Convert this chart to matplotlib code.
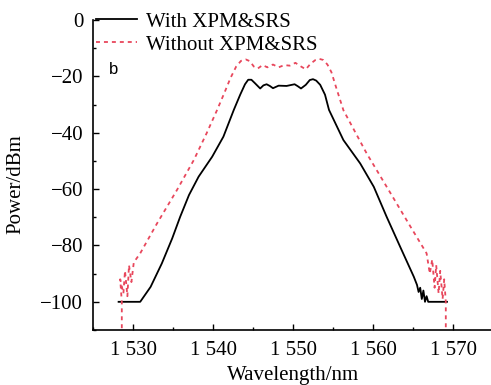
import matplotlib
matplotlib.use("Agg")
import matplotlib.pyplot as plt
from matplotlib.ticker import MultipleLocator

# Data
wl_with = [1528.2, 1530.9, 1532.2, 1533.6, 1534.9, 1535.9, 1537.0, 1538.2, 1539.9,
           1541.3, 1542.6, 1543.4, 1544.0, 1544.4, 1544.8, 1545.2, 1545.9, 1546.3,
           1546.7, 1547.1, 1547.5, 1548.2, 1549.2, 1550.2, 1550.6, 1551.0, 1551.6,
           1552.1, 1552.5, 1552.9, 1553.4, 1554.0, 1554.5, 1556.3, 1558.4, 1560.1,
           1561.7, 1563.4, 1565.1, 1565.5, 1565.7, 1565.9, 1566.1, 1566.3, 1566.5,
           1566.7, 1566.9, 1569.25]
power_with = [-100, -100, -94.7, -86.4, -77.5, -69.8, -62.1, -55.6, -48.5,
              -41.4, -31.9, -26.5, -22.8, -21.2, -21.2, -22.3, -24.3, -23.2,
              -22.8, -23.4, -24.2, -23.3, -23.4, -22.8, -23.5, -24.3, -23,
              -21.3, -21.0, -21.5, -23.0, -26.5, -31.9, -42.6, -50.9, -59.2,
              -69.8, -80.5, -91.1, -94, -96.5, -95, -99, -96, -100,
              -98, -100, -100]

wl_without = [1528.6, 1528.6, 1528.4, 1528.8, 1529.0, 1529.3, 1529.5, 1529.8, 1530.1,
              1530.9, 1533.0, 1535.5, 1537.6, 1539.2, 1540.5, 1541.4, 1542.2, 1542.9,
              1543.5, 1544.1, 1544.6, 1545.1, 1545.6, 1546.2, 1546.8, 1547.5, 1548.2,
              1548.9, 1549.6, 1550.3, 1551.0, 1551.6, 1552.2, 1552.8, 1553.3, 1553.8,
              1554.3, 1554.8, 1555.4, 1556.3, 1559.2, 1562.2, 1564.7, 1566.7, 1567.1,
              1567.4, 1567.7, 1567.9, 1568.2, 1568.4, 1568.7, 1568.9, 1569.1, 1569.1]
power_without = [-115, -100, -92, -97, -89, -98, -87, -93, -86,
                 -82.8, -72.2, -60.3, -49.7, -40.2, -32, -26, -20.5, -16.5,
                 -14.5, -14.0, -14.6, -16.5, -17.2, -16, -16.8, -15.8, -16.8,
                 -16, -16.2, -15.2, -16.5, -17.5, -15.5, -14.2, -13.8, -14.2,
                 -15.8, -18.5, -24, -32, -47.3, -61.5, -73.4, -82.8, -90,
                 -85, -95, -87, -97, -89, -99, -92, -100, -115]

x_ticks = [1530, 1540, 1550, 1560, 1570]
x_ticklabels = ["1 530", "1 540", "1 550", "1 560", "1 570"]
y_ticks = [0, -20, -40, -60, -80, -100]
y_ticklabels = ["0", "\u221220", "\u221240", "\u221260", "\u221280", "\u2212100"]

serif = ["Liberation Serif", "DejaVu Serif"]
plt.rcParams['font.family'] = serif

fig = plt.figure(figsize=(4.91, 3.85), dpi=100)
ax = fig.add_axes([93 / 491, 1 - 330 / 385, 400 / 491, 310 / 385])

ax.plot(wl_with, power_with, color='black', lw=1.3, label='With XPM&SRS')
ax.plot(wl_without, power_without, color='#e8475c', lw=1.3,
        linestyle=(0, (2.2, 2.2)), label='Without XPM&SRS')

ax.set_xlim(1525, 1575)
ax.set_ylim(-110, 0)

for s in ['top', 'right']:
    ax.spines[s].set_visible(False)
for s in ['left', 'bottom']:
    ax.spines[s].set_linewidth(1.2)

ax.set_xticks(x_ticks)
ax.set_xticklabels(x_ticklabels)
ax.xaxis.set_minor_locator(MultipleLocator(5))
ax.set_yticks(y_ticks)
ax.set_yticklabels(y_ticklabels)
ax.yaxis.set_minor_locator(MultipleLocator(10))
ax.tick_params(which='both', direction='in', labelsize=15, width=1.0)
ax.tick_params(which='major', length=4)
ax.tick_params(which='minor', length=2.5)
ax.tick_params(axis='x', which='major', pad=8)
ax.tick_params(axis='y', which='major', pad=7)

ax.set_xlabel('Wavelength/nm', fontsize=15, labelpad=4)
ax.set_ylabel('Power/dBm', fontsize=15)
ax.yaxis.set_label_coords(-0.17, 0.47)

ax.text(1527.6, -17.4, 'b', fontsize=12, family=['Liberation Sans', 'DejaVu Sans'],
        ha='center', va='center')

leg = fig.legend(loc='upper left', bbox_to_anchor=(96 / 491, 1 - 12 / 385),
                 bbox_transform=fig.transFigure, frameon=False, fontsize=15,
                 handlelength=1.95, handletextpad=0.43, borderpad=0,
                 borderaxespad=0, labelspacing=0.17)

fig.savefig('out.png', dpi=100)
